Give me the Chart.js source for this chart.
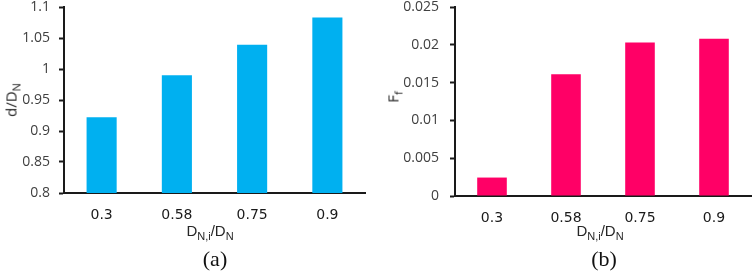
<!DOCTYPE html>
<html><head><meta charset="utf-8">
<script src="https://cdn.jsdelivr.net/npm/chart.js@4"></script>
<style>
html,body{margin:0;padding:0;background:#fff;}
#wrap{position:relative;width:752px;height:271px;overflow:hidden;}
.panel{position:absolute;top:0;width:376px;height:271px;}
canvas{display:block;}
.t{position:absolute;white-space:nowrap;color:#262626;line-height:1;}
.ax{font-family:"Liberation Sans",Arial,sans-serif;font-size:15px;transform:translateX(-50%);}
.ax sub{font-size:11px;vertical-align:baseline;position:relative;top:4px;}
.yt sub{font-size:11px;vertical-align:baseline;position:relative;top:4px;}
.yt{font-family:"Open Sans",sans-serif;font-size:15px;transform:translate(-50%,-50%) rotate(-90deg);}
.cap{font-family:"Liberation Serif","Times New Roman",serif;font-size:22px;transform:translateX(-50%);color:#111;}
</style>
</head><body>
<div id="wrap">
  <div class="panel" style="left:0"><canvas id="ca" width="376" height="271"></canvas></div>
  <div class="panel" style="left:376px"><canvas id="cb" width="376" height="271"></canvas></div>
  <div class="t yt" style="left:11px;top:100px">d/D<sub>N</sub></div>
  <div class="t yt" style="left:393px;top:97px">F<sub>f</sub></div>
  <div class="t ax" style="left:210px;top:223px">D<sub>N,i</sub>/D<sub>N</sub></div>
  <div class="t ax" style="left:600px;top:223px">D<sub>N,i</sub>/D<sub>N</sub></div>
  <div class="t cap" style="left:215px;top:248px">(a)</div>
  <div class="t cap" style="left:604px;top:248px">(b)</div>
</div>
<script>
const categories = ["0.3", "0.58", "0.75", "0.9"];
const seriesA = [0.922, 0.990, 1.039, 1.083];
const seriesB = [0.00244, 0.0161, 0.0203, 0.0208];
const ticksA = {min: 0.8, max: 1.1, step: 0.05, dec: 2};
const ticksB = {min: 0, max: 0.025, step: 0.005, dec: 3};

function makeChart(id, values, color, tk, yWidth, padRight, xHeight, yPad) {
  return new Chart(document.getElementById(id), {
    type: 'bar',
    data: {
      labels: categories,
      datasets: [{data: values, backgroundColor: color, borderWidth: 0,
        categoryPercentage: 1.0, barPercentage: 0.4}]
    },
    options: {
      responsive: false, animation: false, devicePixelRatio: 1,
      layout: {padding: {top: 7, right: padRight, left: 0, bottom: 0}},
      plugins: {legend: {display: false}, tooltip: {enabled: false}},
      scales: {
        x: {
          grid: {display: true, drawOnChartArea: false, drawTicks: false},
          border: {display: true, color: '#1a1a1a', width: 2},
          ticks: {padding: 14, color: '#1a1a1a', font: {family: 'DejaVu Sans', size: 14}, maxRotation: 0},
          afterFit(s) { s.height = xHeight; s.paddingLeft = 0; s.paddingRight = 0; }
        },
        y: {
          min: tk.min, max: tk.max,
          grid: {display: true, drawOnChartArea: false, drawTicks: true, tickLength: 5, color: '#1a1a1a', tickWidth: 2},
          border: {display: true, color: '#1a1a1a', width: 2},
          ticks: {stepSize: tk.step, padding: yPad, color: '#404040',
            font: {family: 'Open Sans', size: 14},
            callback: v => String(Number(v.toFixed(tk.dec)))},
          afterFit(s) { s.width = yWidth; s.paddingTop = 0; s.paddingBottom = 0; }
        }
      }
    }
  });
}
makeChart('ca', seriesA, '#00B0F0', ticksA, 64, 11, 78, 9);
makeChart('cb', seriesB, '#FF0066', ticksB, 79, 1, 75, 11);
</script>
</body></html>
